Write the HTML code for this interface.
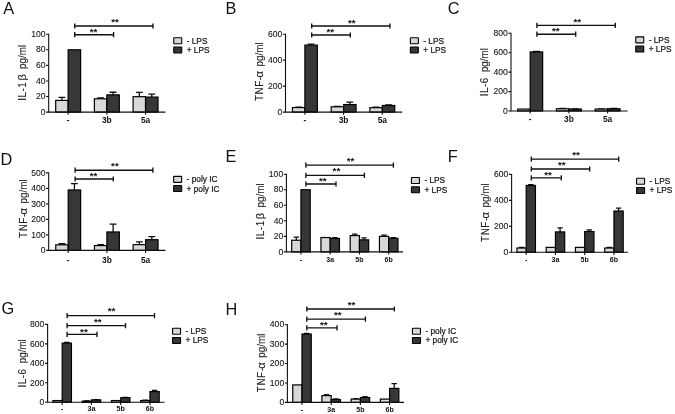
<!DOCTYPE html>
<html lang="en">
<head>
<meta charset="utf-8">
<title>Cytokine release figure</title>
<style>
html,body{margin:0;padding:0;background:#fff;}
body{width:675px;height:414px;overflow:hidden;}
svg{display:block;font-family:"Liberation Sans", sans-serif;}
text{fill:#111;}
.pl{font-size:16.3px;}
.yl{font-size:10.5px;fill:#1c1c1c;stroke:#1c1c1c;stroke-width:0.12px;}
.gk{font-size:11.8px;}
.tk{font-size:8.6px;stroke:#111;stroke-width:0.08px;}
.xl3{font-size:8.4px;font-weight:bold;}
.xl4{font-size:7px;font-weight:bold;}
.st{font-size:9.8px;font-weight:bold;}
.lg{font-size:8.3px;stroke:#111;stroke-width:0.2px;}
.ax{fill:none;stroke:#111;stroke-width:1.1;}
.br{fill:none;stroke:#111;stroke-width:1.35;}
.ln{fill:none;stroke:#111;stroke-width:1.3;}
.bar{stroke:#000;stroke-width:1.2;}
.lb{stroke:#000;stroke-width:1.1;}
</style>
</head>
<body>
<svg width="675" height="414" viewBox="0 0 675 414">
<rect width="675" height="414" fill="#fff"/>
<g>
<text class="pl" x="3.3" y="13.6">A</text>
<text class="yl" transform="translate(26.4 99.9) rotate(-90) scale(0.94 1)"><tspan x="-0.96" letter-spacing="0.55">IL-1</tspan><tspan x="20.53" class="gk">β</tspan><tspan x="32.98">pg/ml</tspan></text>
<path class="ln" d="M61.93 100.41V97.3M58.53 97.3H65.33"/>
<rect class="bar" x="55.7" y="100.41" width="12.45" height="11.69" fill="#d8d8d8"/>
<rect class="bar" x="68.15" y="49.78" width="12.45" height="62.32" fill="#373737"/>
<path class="ln" d="M100.62 98.78V97.84M97.22 97.84H104.03"/>
<rect class="bar" x="94.4" y="98.78" width="12.45" height="13.32" fill="#d8d8d8"/>
<path class="ln" d="M113.08 94.88V92.24M109.67 92.24H116.48"/>
<rect class="bar" x="106.85" y="94.88" width="12.45" height="17.22" fill="#373737"/>
<path class="ln" d="M139.33 96.68V92.31M135.93 92.31H142.73"/>
<rect class="bar" x="133.1" y="96.68" width="12.45" height="15.42" fill="#d8d8d8"/>
<path class="ln" d="M151.78 97.07V94.03M148.38 94.03H155.18"/>
<rect class="bar" x="145.55" y="97.07" width="12.45" height="15.03" fill="#373737"/>
<path class="ax" d="M48.7 33.7V112.1H165.5"/>
<text class="tk" x="45.5" y="114.8" text-anchor="end">0</text>
<text class="tk" x="45.5" y="99.22" text-anchor="end">20</text>
<text class="tk" x="45.5" y="83.64" text-anchor="end">40</text>
<text class="tk" x="45.5" y="68.06" text-anchor="end">60</text>
<text class="tk" x="45.5" y="52.48" text-anchor="end">80</text>
<text class="tk" x="45.5" y="36.9" text-anchor="end">100</text>
<path class="ax" d="M46.1 112.1H48.7M46.1 96.52H48.7M46.1 80.94H48.7M46.1 65.36H48.7M46.1 49.78H48.7M46.1 34.2H48.7M68.15 112.1V114.7M106.85 112.1V114.7M145.55 112.1V114.7"/>
<text class="xl3" x="68.15" y="122.7" text-anchor="middle">-</text>
<text class="xl3" x="106.85" y="122.7" text-anchor="middle">3b</text>
<text class="xl3" x="145.55" y="122.7" text-anchor="middle">5a</text>
<path class="br" d="M74.7 26H153M74.7 23.4V28.6M153 23.4V28.6"/>
<text class="st" x="115" y="25.45" text-anchor="middle">**</text>
<path class="br" d="M74.7 34.7H113.6M74.7 32.1V37.3M113.6 32.1V37.3"/>
<text class="st" x="93.5" y="35.25" text-anchor="middle">**</text>
<rect class="lb" x="173.75" y="37.75" width="8" height="6" rx="0.4" fill="#d8d8d8"/>
<text class="lg" x="186.7" y="43.6">- LPS</text>
<rect class="lb" x="173.75" y="46.95" width="8" height="6" rx="0.4" fill="#373737"/>
<text class="lg" x="186.7" y="52.9">+ LPS</text>
</g>
<g>
<text class="pl" x="225.6" y="13.6">B</text>
<text class="yl" transform="translate(262.8 101) rotate(-90) scale(0.94 1)"><tspan x="0" letter-spacing="0.6">TNF-</tspan><tspan x="25" class="gk">α</tspan><tspan x="36.7">pg/ml</tspan></text>
<path class="ln" d="M298.68 107.56V107.04M295.28 107.04H302.07"/>
<rect class="bar" x="292.45" y="107.56" width="12.45" height="4.54" fill="#d8d8d8"/>
<path class="ln" d="M311.12 45.11V44.2M307.73 44.2H314.52"/>
<rect class="bar" x="304.9" y="45.11" width="12.45" height="66.99" fill="#373737"/>
<path class="ln" d="M337.38 106.78V106.52M333.98 106.52H340.77"/>
<rect class="bar" x="331.15" y="106.78" width="12.45" height="5.32" fill="#d8d8d8"/>
<path class="ln" d="M349.82 104.57V102.1M346.43 102.1H353.22"/>
<rect class="bar" x="343.6" y="104.57" width="12.45" height="7.53" fill="#373737"/>
<path class="ln" d="M376.07 107.69V107.17M372.68 107.17H379.47"/>
<rect class="bar" x="369.85" y="107.69" width="12.45" height="4.41" fill="#d8d8d8"/>
<path class="ln" d="M388.52 105.48V104.96M385.12 104.96H391.92"/>
<rect class="bar" x="382.3" y="105.48" width="12.45" height="6.62" fill="#373737"/>
<path class="ax" d="M285.5 33.7V112.1H402.2"/>
<text class="tk" x="282.3" y="114.8" text-anchor="end">0</text>
<text class="tk" x="282.3" y="88.83" text-anchor="end">200</text>
<text class="tk" x="282.3" y="62.87" text-anchor="end">400</text>
<text class="tk" x="282.3" y="36.9" text-anchor="end">600</text>
<path class="ax" d="M282.9 112.1H285.5M282.9 86.13H285.5M282.9 60.17H285.5M282.9 34.2H285.5M304.9 112.1V114.7M343.6 112.1V114.7M382.3 112.1V114.7"/>
<text class="xl3" x="304.9" y="122.7" text-anchor="middle">-</text>
<text class="xl3" x="343.6" y="122.7" text-anchor="middle">3b</text>
<text class="xl3" x="382.3" y="122.7" text-anchor="middle">5a</text>
<path class="br" d="M311.7 26H389.9M311.7 23.4V28.6M389.9 23.4V28.6"/>
<text class="st" x="351.8" y="25.65" text-anchor="middle">**</text>
<path class="br" d="M311.7 35H350.3M311.7 32.4V37.6M350.3 32.4V37.6"/>
<text class="st" x="330.3" y="34.85" text-anchor="middle">**</text>
<rect class="lb" x="410.35" y="37.75" width="8" height="6" rx="0.4" fill="#d8d8d8"/>
<text class="lg" x="423.3" y="43.6">- LPS</text>
<rect class="lb" x="410.35" y="46.95" width="8" height="6" rx="0.4" fill="#373737"/>
<text class="lg" x="423.3" y="52.9">+ LPS</text>
</g>
<g>
<text class="pl" x="447.7" y="13.5">C</text>
<text class="yl" transform="translate(488.2 95.4) rotate(-90) scale(0.94 1)"><tspan x="-0.96" letter-spacing="0.55">IL-6</tspan><tspan x="24.79">pg/ml</tspan></text>
<rect class="bar" x="517.75" y="109.06" width="12.45" height="1.94" fill="#d8d8d8"/>
<path class="ln" d="M536.43 51.95V51.37M533.03 51.37H539.83"/>
<rect class="bar" x="530.2" y="51.95" width="12.45" height="59.05" fill="#373737"/>
<path class="ln" d="M562.68 108.77V108.47M559.28 108.47H566.08"/>
<rect class="bar" x="556.45" y="108.77" width="12.45" height="2.23" fill="#d8d8d8"/>
<path class="ln" d="M575.13 109.06V108.86M571.73 108.86H578.53"/>
<rect class="bar" x="568.9" y="109.06" width="12.45" height="1.94" fill="#373737"/>
<path class="ln" d="M601.38 109.06V108.86M597.98 108.86H604.77"/>
<rect class="bar" x="595.15" y="109.06" width="12.45" height="1.94" fill="#d8d8d8"/>
<path class="ln" d="M613.83 108.77V108.47M610.43 108.47H617.23"/>
<rect class="bar" x="607.6" y="108.77" width="12.45" height="2.23" fill="#373737"/>
<path class="ax" d="M511 32.8V111H627.6"/>
<text class="tk" x="507.8" y="113.7" text-anchor="end">0</text>
<text class="tk" x="507.8" y="94.28" text-anchor="end">200</text>
<text class="tk" x="507.8" y="74.85" text-anchor="end">400</text>
<text class="tk" x="507.8" y="55.43" text-anchor="end">600</text>
<text class="tk" x="507.8" y="36" text-anchor="end">800</text>
<path class="ax" d="M508.4 111H511M508.4 91.58H511M508.4 72.15H511M508.4 52.73H511M508.4 33.3H511M530.2 111V113.6M568.9 111V113.6M607.6 111V113.6"/>
<text class="xl3" x="530.2" y="122.2" text-anchor="middle">-</text>
<text class="xl3" x="568.9" y="122.2" text-anchor="middle">3b</text>
<text class="xl3" x="607.6" y="122.2" text-anchor="middle">5a</text>
<path class="br" d="M536.9 25.3H615.3M536.9 22.7V27.9M615.3 22.7V27.9"/>
<text class="st" x="577.2" y="24.55" text-anchor="middle">**</text>
<path class="br" d="M536.9 34.2H575.7M536.9 31.6V36.8M575.7 31.6V36.8"/>
<text class="st" x="555.8" y="34.45" text-anchor="middle">**</text>
<rect class="lb" x="635.75" y="36.85" width="8" height="6" rx="0.4" fill="#d8d8d8"/>
<text class="lg" x="648.7" y="42.7">- LPS</text>
<rect class="lb" x="635.75" y="46.05" width="8" height="6" rx="0.4" fill="#373737"/>
<text class="lg" x="648.7" y="52">+ LPS</text>
</g>
<g>
<text class="pl" x="0.4" y="164.6">D</text>
<text class="yl" transform="translate(26.8 237.9) rotate(-90) scale(0.94 1)"><tspan x="0" letter-spacing="0.6">TNF-</tspan><tspan x="25" class="gk">α</tspan><tspan x="36.7">pg/ml</tspan></text>
<path class="ln" d="M61.98 244.82V243.74M58.58 243.74H65.38"/>
<rect class="bar" x="55.75" y="244.82" width="12.45" height="5.58" fill="#d8d8d8"/>
<path class="ln" d="M74.42 189.95V183.6M71.02 183.6H77.83"/>
<rect class="bar" x="68.2" y="189.95" width="12.45" height="60.45" fill="#373737"/>
<path class="ln" d="M100.67 245.59V244.66M97.27 244.66H104.08"/>
<rect class="bar" x="94.45" y="245.59" width="12.45" height="4.81" fill="#d8d8d8"/>
<path class="ln" d="M113.12 231.96V224.05M109.72 224.05H116.53"/>
<rect class="bar" x="106.9" y="231.96" width="12.45" height="18.44" fill="#373737"/>
<path class="ln" d="M139.38 244.66V241.88M135.98 241.88H142.78"/>
<rect class="bar" x="133.15" y="244.66" width="12.45" height="5.74" fill="#d8d8d8"/>
<path class="ln" d="M151.83 239.71V236.61M148.43 236.61H155.23"/>
<rect class="bar" x="145.6" y="239.71" width="12.45" height="10.69" fill="#373737"/>
<path class="ax" d="M48.7 172.4V250.4H165.5"/>
<text class="tk" x="45.5" y="253.1" text-anchor="end">0</text>
<text class="tk" x="45.5" y="237.6" text-anchor="end">100</text>
<text class="tk" x="45.5" y="222.1" text-anchor="end">200</text>
<text class="tk" x="45.5" y="206.6" text-anchor="end">300</text>
<text class="tk" x="45.5" y="191.1" text-anchor="end">400</text>
<text class="tk" x="45.5" y="175.6" text-anchor="end">500</text>
<path class="ax" d="M46.1 250.4H48.7M46.1 234.9H48.7M46.1 219.4H48.7M46.1 203.9H48.7M46.1 188.4H48.7M46.1 172.9H48.7M68.2 250.4V253M106.9 250.4V253M145.6 250.4V253"/>
<text class="xl3" x="68.2" y="262.8" text-anchor="middle">-</text>
<text class="xl3" x="106.9" y="262.8" text-anchor="middle">3b</text>
<text class="xl3" x="145.6" y="262.8" text-anchor="middle">5a</text>
<path class="br" d="M75.1 170.2H152.9M75.1 167.6V172.8M152.9 167.6V172.8"/>
<text class="st" x="114.9" y="169.25" text-anchor="middle">**</text>
<path class="br" d="M75.1 179H113.3M75.1 176.4V181.6M113.3 176.4V181.6"/>
<text class="st" x="93.5" y="179.25" text-anchor="middle">**</text>
<rect class="lb" x="173.65" y="176.35" width="8" height="6" rx="0.4" fill="#d8d8d8"/>
<text class="lg" x="186.6" y="182.2">- poly IC</text>
<rect class="lb" x="173.65" y="185.55" width="8" height="6" rx="0.4" fill="#373737"/>
<text class="lg" x="186.6" y="191.5">+ poly IC</text>
</g>
<g>
<text class="pl" x="225.6" y="162">E</text>
<text class="yl" transform="translate(263.6 238.5) rotate(-90) scale(0.94 1)"><tspan x="-0.96" letter-spacing="0.55">IL-1</tspan><tspan x="20.53" class="gk">β</tspan><tspan x="32.98">pg/ml</tspan></text>
<path class="ln" d="M296.32 240.25V237.14M293.62 237.14H299.02"/>
<rect class="bar" x="291.7" y="240.25" width="9.25" height="11.66" fill="#d8d8d8"/>
<rect class="bar" x="300.95" y="189.74" width="9.25" height="62.16" fill="#373737"/>
<rect class="bar" x="320.95" y="237.53" width="9.25" height="14.37" fill="#d8d8d8"/>
<path class="ln" d="M334.82 238.46V237.68M332.12 237.68H337.52"/>
<rect class="bar" x="330.2" y="238.46" width="9.25" height="13.44" fill="#373737"/>
<path class="ln" d="M354.82 235.58V234.03M352.12 234.03H357.52"/>
<rect class="bar" x="350.2" y="235.58" width="9.25" height="16.32" fill="#d8d8d8"/>
<path class="ln" d="M364.07 239.86V237.91M361.38 237.91H366.77"/>
<rect class="bar" x="359.45" y="239.86" width="9.25" height="12.04" fill="#373737"/>
<path class="ln" d="M384.07 236.36V235.19M381.38 235.19H386.77"/>
<rect class="bar" x="379.45" y="236.36" width="9.25" height="15.54" fill="#d8d8d8"/>
<path class="ln" d="M393.32 238.3V237.53M390.62 237.53H396.02"/>
<rect class="bar" x="388.7" y="238.3" width="9.25" height="13.6" fill="#373737"/>
<path class="ax" d="M286.4 173.7V251.9H403"/>
<text class="tk" x="283.2" y="254.6" text-anchor="end">0</text>
<text class="tk" x="283.2" y="239.06" text-anchor="end">20</text>
<text class="tk" x="283.2" y="223.52" text-anchor="end">40</text>
<text class="tk" x="283.2" y="207.98" text-anchor="end">60</text>
<text class="tk" x="283.2" y="192.44" text-anchor="end">80</text>
<text class="tk" x="283.2" y="176.9" text-anchor="end">100</text>
<path class="ax" d="M283.8 251.9H286.4M283.8 236.36H286.4M283.8 220.82H286.4M283.8 205.28H286.4M283.8 189.74H286.4M283.8 174.2H286.4M300.95 251.9V254.5M330.2 251.9V254.5M359.45 251.9V254.5M388.7 251.9V254.5"/>
<text class="xl4" x="300.95" y="261.5" text-anchor="middle">-</text>
<text class="xl4" x="330.2" y="261.5" text-anchor="middle">3a</text>
<text class="xl4" x="359.45" y="261.5" text-anchor="middle">5b</text>
<text class="xl4" x="388.7" y="261.5" text-anchor="middle">6b</text>
<path class="br" d="M305.9 165.1H393.4M305.9 162.5V167.7M393.4 162.5V167.7"/>
<text class="st" x="350.5" y="163.95" text-anchor="middle">**</text>
<path class="br" d="M305.9 175.3H364.4M305.9 172.7V177.9M364.4 172.7V177.9"/>
<text class="st" x="336.4" y="174.45" text-anchor="middle">**</text>
<path class="br" d="M305.9 184H336M305.9 181.4V186.6M336 181.4V186.6"/>
<text class="st" x="322.7" y="184.25" text-anchor="middle">**</text>
<rect class="lb" x="411.45" y="177.55" width="8" height="6" rx="0.4" fill="#d8d8d8"/>
<text class="lg" x="424.4" y="183.4">- LPS</text>
<rect class="lb" x="411.45" y="186.75" width="8" height="6" rx="0.4" fill="#373737"/>
<text class="lg" x="424.4" y="192.7">+ LPS</text>
</g>
<g>
<text class="pl" x="447.7" y="161.9">F</text>
<text class="yl" transform="translate(489.2 241.9) rotate(-90) scale(0.94 1)"><tspan x="0" letter-spacing="0.6">TNF-</tspan><tspan x="25" class="gk">α</tspan><tspan x="36.7">pg/ml</tspan></text>
<path class="ln" d="M521.58 248.02V247.5M518.88 247.5H524.28"/>
<rect class="bar" x="516.95" y="248.02" width="9.25" height="4.28" fill="#d8d8d8"/>
<path class="ln" d="M530.83 185.44V184.66M528.12 184.66H533.53"/>
<rect class="bar" x="526.2" y="185.44" width="9.25" height="66.86" fill="#373737"/>
<rect class="bar" x="546.2" y="247.37" width="9.25" height="4.93" fill="#d8d8d8"/>
<path class="ln" d="M560.08 231.92V227.89M557.38 227.89H562.78"/>
<rect class="bar" x="555.45" y="231.92" width="9.25" height="20.38" fill="#373737"/>
<rect class="bar" x="575.45" y="247.37" width="9.25" height="4.93" fill="#d8d8d8"/>
<path class="ln" d="M589.33 231.53V229.97M586.62 229.97H592.03"/>
<rect class="bar" x="584.7" y="231.53" width="9.25" height="20.77" fill="#373737"/>
<path class="ln" d="M609.33 248.02V247.5M606.62 247.5H612.03"/>
<rect class="bar" x="604.7" y="248.02" width="9.25" height="4.28" fill="#d8d8d8"/>
<path class="ln" d="M618.58 211.01V208.16M615.88 208.16H621.28"/>
<rect class="bar" x="613.95" y="211.01" width="9.25" height="41.29" fill="#373737"/>
<path class="ax" d="M511.6 173.9V252.3H628.1"/>
<text class="tk" x="508.4" y="255" text-anchor="end">0</text>
<text class="tk" x="508.4" y="229.03" text-anchor="end">200</text>
<text class="tk" x="508.4" y="203.07" text-anchor="end">400</text>
<text class="tk" x="508.4" y="177.1" text-anchor="end">600</text>
<path class="ax" d="M509 252.3H511.6M509 226.33H511.6M509 200.37H511.6M509 174.4H511.6M526.2 252.3V254.9M555.45 252.3V254.9M584.7 252.3V254.9M613.95 252.3V254.9"/>
<text class="xl4" x="526.2" y="261.6" text-anchor="middle">-</text>
<text class="xl4" x="555.45" y="261.6" text-anchor="middle">3a</text>
<text class="xl4" x="584.7" y="261.6" text-anchor="middle">5b</text>
<text class="xl4" x="613.95" y="261.6" text-anchor="middle">6b</text>
<path class="br" d="M531.3 159.1H618.7M531.3 156.5V161.7M618.7 156.5V161.7"/>
<text class="st" x="576" y="157.95" text-anchor="middle">**</text>
<path class="br" d="M531.3 169H589.7M531.3 166.4V171.6M589.7 166.4V171.6"/>
<text class="st" x="561.8" y="168.45" text-anchor="middle">**</text>
<path class="br" d="M531.3 177.9H561.3M531.3 175.3V180.5M561.3 175.3V180.5"/>
<text class="st" x="548.1" y="178.25" text-anchor="middle">**</text>
<rect class="lb" x="636.55" y="178.25" width="8" height="6" rx="0.4" fill="#d8d8d8"/>
<text class="lg" x="649.5" y="184.1">- LPS</text>
<rect class="lb" x="636.55" y="187.45" width="8" height="6" rx="0.4" fill="#373737"/>
<text class="lg" x="649.5" y="193.4">+ LPS</text>
</g>
<g>
<text class="pl" x="1.6" y="313.7">G</text>
<text class="yl" transform="translate(25.6 386.6) rotate(-90) scale(0.94 1)"><tspan x="-0.96" letter-spacing="0.55">IL-6</tspan><tspan x="24.79">pg/ml</tspan></text>
<rect class="bar" x="52.95" y="400.55" width="9.25" height="1.75" fill="#d8d8d8"/>
<path class="ln" d="M66.83 343.1V342.51M64.12 342.51H69.53"/>
<rect class="bar" x="62.2" y="343.1" width="9.25" height="59.2" fill="#373737"/>
<path class="ln" d="M86.83 401.13V400.84M84.12 400.84H89.53"/>
<rect class="bar" x="82.2" y="401.13" width="9.25" height="1.17" fill="#d8d8d8"/>
<path class="ln" d="M96.08 399.87V399.67M93.38 399.67H98.78"/>
<rect class="bar" x="91.45" y="399.87" width="9.25" height="2.43" fill="#373737"/>
<rect class="bar" x="111.45" y="400.55" width="9.25" height="1.75" fill="#d8d8d8"/>
<path class="ln" d="M125.33 397.72V397.33M122.62 397.33H128.03"/>
<rect class="bar" x="120.7" y="397.72" width="9.25" height="4.58" fill="#373737"/>
<path class="ln" d="M145.32 400.55V400.26M142.62 400.26H148.02"/>
<rect class="bar" x="140.7" y="400.55" width="9.25" height="1.75" fill="#d8d8d8"/>
<path class="ln" d="M154.57 391.59V390.52M151.88 390.52H157.27"/>
<rect class="bar" x="149.95" y="391.59" width="9.25" height="10.71" fill="#373737"/>
<path class="ax" d="M47.6 323.9V402.3H164.5"/>
<text class="tk" x="44.4" y="405" text-anchor="end">0</text>
<text class="tk" x="44.4" y="385.52" text-anchor="end">200</text>
<text class="tk" x="44.4" y="366.05" text-anchor="end">400</text>
<text class="tk" x="44.4" y="346.57" text-anchor="end">600</text>
<text class="tk" x="44.4" y="327.1" text-anchor="end">800</text>
<path class="ax" d="M45 402.3H47.6M45 382.82H47.6M45 363.35H47.6M45 343.88H47.6M45 324.4H47.6M62.2 402.3V404.9M91.45 402.3V404.9M120.7 402.3V404.9M149.95 402.3V404.9"/>
<text class="xl4" x="62.2" y="411.4" text-anchor="middle">-</text>
<text class="xl4" x="91.45" y="411.4" text-anchor="middle">3a</text>
<text class="xl4" x="120.7" y="411.4" text-anchor="middle">5b</text>
<text class="xl4" x="149.95" y="411.4" text-anchor="middle">6b</text>
<path class="br" d="M67.1 315.6H154.5M67.1 313V318.2M154.5 313V318.2"/>
<text class="st" x="111.6" y="314.35" text-anchor="middle">**</text>
<path class="br" d="M67.1 325.6H125.5M67.1 323V328.2M125.5 323V328.2"/>
<text class="st" x="97.8" y="325.05" text-anchor="middle">**</text>
<path class="br" d="M67.1 334.4H97M67.1 331.8V337M97 331.8V337"/>
<text class="st" x="83.9" y="334.55" text-anchor="middle">**</text>
<rect class="lb" x="172.55" y="328.25" width="8" height="6" rx="0.4" fill="#d8d8d8"/>
<text class="lg" x="185.5" y="334.1">- LPS</text>
<rect class="lb" x="172.55" y="337.45" width="8" height="6" rx="0.4" fill="#373737"/>
<text class="lg" x="185.5" y="343.4">+ LPS</text>
</g>
<g>
<text class="pl" x="225.6" y="314.7">H</text>
<text class="yl" transform="translate(265.1 392.2) rotate(-90) scale(0.94 1)"><tspan x="0" letter-spacing="0.6">TNF-</tspan><tspan x="25" class="gk">α</tspan><tspan x="36.7">pg/ml</tspan></text>
<rect class="bar" x="292.75" y="384.92" width="9.25" height="17.48" fill="#d8d8d8"/>
<path class="ln" d="M306.62 334.02V333.44M303.93 333.44H309.32"/>
<rect class="bar" x="302" y="334.02" width="9.25" height="68.38" fill="#373737"/>
<path class="ln" d="M326.57 395.6V394.63M323.88 394.63H329.27"/>
<rect class="bar" x="321.95" y="395.6" width="9.25" height="6.8" fill="#d8d8d8"/>
<path class="ln" d="M335.82 399.49V398.9M333.12 398.9H338.52"/>
<rect class="bar" x="331.2" y="399.49" width="9.25" height="2.91" fill="#373737"/>
<path class="ln" d="M355.77 399.1V398.71M353.07 398.71H358.47"/>
<rect class="bar" x="351.15" y="399.1" width="9.25" height="3.3" fill="#d8d8d8"/>
<path class="ln" d="M365.02 397.54V396.77M362.32 396.77H367.72"/>
<rect class="bar" x="360.4" y="397.54" width="9.25" height="4.86" fill="#373737"/>
<rect class="bar" x="380.35" y="399.1" width="9.25" height="3.3" fill="#d8d8d8"/>
<path class="ln" d="M394.23 388.41V383.56M391.53 383.56H396.93"/>
<rect class="bar" x="389.6" y="388.41" width="9.25" height="13.99" fill="#373737"/>
<path class="ax" d="M287.4 324.2V402.4H404"/>
<text class="tk" x="284.2" y="405.1" text-anchor="end">0</text>
<text class="tk" x="284.2" y="385.67" text-anchor="end">100</text>
<text class="tk" x="284.2" y="366.25" text-anchor="end">200</text>
<text class="tk" x="284.2" y="346.82" text-anchor="end">300</text>
<text class="tk" x="284.2" y="327.4" text-anchor="end">400</text>
<path class="ax" d="M284.8 402.4H287.4M284.8 382.97H287.4M284.8 363.55H287.4M284.8 344.12H287.4M284.8 324.7H287.4M302 402.4V405M331.2 402.4V405M360.4 402.4V405M389.6 402.4V405"/>
<text class="xl4" x="302" y="411.6" text-anchor="middle">-</text>
<text class="xl4" x="331.2" y="411.6" text-anchor="middle">3a</text>
<text class="xl4" x="360.4" y="411.6" text-anchor="middle">5b</text>
<text class="xl4" x="389.6" y="411.6" text-anchor="middle">6b</text>
<path class="br" d="M306.8 309H394.4M306.8 306.4V311.6M394.4 306.4V311.6"/>
<text class="st" x="351.6" y="307.95" text-anchor="middle">**</text>
<path class="br" d="M306.8 319.1H365.4M306.8 316.5V321.7M365.4 316.5V321.7"/>
<text class="st" x="337.8" y="318.45" text-anchor="middle">**</text>
<path class="br" d="M306.8 327.9H337M306.8 325.3V330.5M337 325.3V330.5"/>
<text class="st" x="323.7" y="328.25" text-anchor="middle">**</text>
<rect class="lb" x="412.45" y="328.25" width="8" height="6" rx="0.4" fill="#d8d8d8"/>
<text class="lg" x="425.4" y="334.1">- poly IC</text>
<rect class="lb" x="412.45" y="337.45" width="8" height="6" rx="0.4" fill="#373737"/>
<text class="lg" x="425.4" y="343.4">+ poly IC</text>
</g>
</svg>
</body>
</html>
